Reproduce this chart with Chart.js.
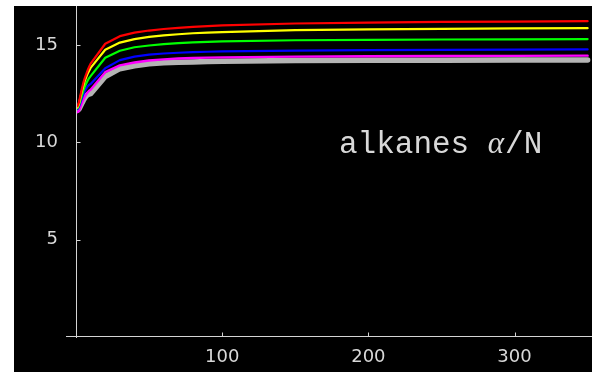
<!DOCTYPE html>
<html>
<head>
<meta charset="utf-8">
<script src="https://cdn.jsdelivr.net/npm/chart.js@4.4.1/dist/chart.umd.min.js"></script>
<style>
  html, body { margin: 0; padding: 0; background: #ffffff; }
  #wrap { width: 592px; height: 372px; position: relative; }
  canvas { display: block; }
</style>
</head>
<body>
<div id="wrap"><canvas id="c" width="592" height="372"></canvas></div>
<script>
// ---- data ----
const N = [1,2,3,4,5,6,7,8,9,10,20,30,40,50,60,70,80,90,100,150,200,250,300,350];
const red     = [11.85,12.05,12.4,12.75,13.05,13.3,13.5,13.7,13.88,14.04,15.06,15.45,15.63,15.74,15.82,15.88,15.93,15.97,16.0,16.1,16.15,16.18,16.2,16.22];
const yellow  = [11.8,11.98,12.3,12.62,12.9,13.15,13.35,13.53,13.68,13.82,14.75,15.12,15.3,15.41,15.49,15.55,15.6,15.63,15.66,15.76,15.8,15.83,15.85,15.86];
const green   = [11.75,11.9,12.15,12.42,12.65,12.85,13.02,13.17,13.3,13.4,14.34,14.7,14.88,14.97,15.04,15.09,15.13,15.16,15.18,15.24,15.26,15.28,15.29,15.3];
const blue    = [11.7,11.82,12.03,12.25,12.45,12.62,12.76,12.88,12.95,13.0,13.8,14.22,14.4,14.5,14.56,14.6,14.63,14.65,14.67,14.71,14.73,14.75,14.76,14.77];
const magenta = [11.55,11.6,11.8,12.0,12.18,12.33,12.46,12.57,12.65,12.7,13.6,13.95,14.1,14.2,14.26,14.3,14.33,14.35,14.36,14.4,14.42,14.43,14.44,14.45];
const gray    = [11.65,11.7,11.85,12.0,12.15,12.28,12.38,12.45,12.48,12.5,13.38,13.78,13.93,14.03,14.08,14.11,14.13,14.15,14.16,14.2,14.21,14.22,14.23,14.23];
const xTicks = [100, 200, 300];
const yTicks = [5, 10, 15];
const labelText = ["alkanes ", "\u03B1", "/N"];

const pts = arr => arr.map((v, i) => ({ x: N[i], y: v }));
const AXIS = '#d4d4d4';
const TXT = '#d8d8d8';

const framePlugin = {
  id: 'frame',
  beforeDraw(chart) {
    const ctx = chart.ctx;
    ctx.save();
    ctx.fillStyle = '#ffffff';
    ctx.fillRect(0, 0, chart.width, chart.height);
    ctx.fillStyle = '#000000';
    ctx.fillRect(14, 6, chart.width - 14, chart.height - 6);
    ctx.restore();
  },
  afterDraw(chart) {
    const ctx = chart.ctx;
    const xs = chart.scales.x, ys = chart.scales.y;
    const ca = chart.chartArea;
    const x0 = Math.round(ca.left) + 0.5;
    const y0 = Math.round(ca.bottom) - 0.5;
    ctx.save();
    ctx.strokeStyle = AXIS;
    ctx.lineWidth = 1;
    ctx.beginPath();
    ctx.moveTo(ca.left - 10, y0); ctx.lineTo(ca.right, y0);
    ctx.moveTo(x0, ca.top); ctx.lineTo(x0, ca.bottom + 1);
    xTicks.forEach(v => {
      const px = Math.round(xs.getPixelForValue(v)) + 0.5;
      ctx.moveTo(px, y0); ctx.lineTo(px, y0 - 4);
    });
    yTicks.forEach(v => {
      const py = Math.round(ys.getPixelForValue(v)) + 0.5;
      ctx.moveTo(x0, py); ctx.lineTo(x0 + 4, py);
    });
    ctx.stroke();

    const monoFont = '31px "Liberation Mono"';
    const mathFont = 'italic 31px "Liberation Serif"';
    let tx = ca.left + 263;
    const ty = 153;
    ctx.fillStyle = TXT;
    ctx.textBaseline = 'alphabetic';
    ctx.textAlign = 'left';
    ctx.font = monoFont;
    ctx.fillText(labelText[0], tx, ty);
    tx += ctx.measureText(labelText[0]).width;
    ctx.font = mathFont;
    ctx.fillText(labelText[1], tx, ty);
    tx += ctx.measureText(labelText[1]).width + 1;
    ctx.font = monoFont;
    ctx.fillText(labelText[2], tx, ty);
    ctx.restore();
  }
};

const mk = (data, color, w) => ({
  data: pts(data), borderColor: color, borderWidth: w, pointRadius: 0,
  fill: false, tension: 0, borderCapStyle: 'round', borderJoinStyle: 'round'
});

new Chart(document.getElementById('c'), {
  type: 'line',
  data: {
    datasets: [
      mk(red, '#ff0000', 2.2),
      mk(yellow, '#ffff00', 2.2),
      mk(green, '#00ff00', 2.2),
      mk(blue, '#0000ff', 2.2),
      mk(magenta, '#ff00ff', 2.4),
      mk(gray, '#b4b4b4', 5.5)
    ]
  },
  options: {
    responsive: false,
    animation: false,
    devicePixelRatio: 1,
    layout: { padding: { top: 6, right: 0, left: 0, bottom: 0 } },
    plugins: { legend: { display: false }, tooltip: { enabled: false } },
    scales: {
      x: {
        type: 'linear', min: 0, max: 353,
        afterBuildTicks: a => { a.ticks = xTicks.map(v => ({ value: v })); },
        afterFit: s => { s.height = 35; s.paddingLeft = 0; s.paddingRight = 0; },
        grid: { display: false, drawTicks: false, tickLength: 0 },
        border: { display: false },
        ticks: { color: TXT, font: { family: 'DejaVu Sans', size: 18 }, padding: 10, maxRotation: 0 }
      },
      y: {
        type: 'linear', min: 0, max: 17,
        afterBuildTicks: a => { a.ticks = yTicks.map(v => ({ value: v })); },
        afterFit: s => { s.width = 76; s.paddingTop = 0; s.paddingBottom = 0; },
        grid: { display: false, drawTicks: false, tickLength: 0 },
        border: { display: false },
        ticks: { color: TXT, font: { family: 'DejaVu Sans', size: 18 }, padding: 18 }
      }
    }
  },
  plugins: [framePlugin]
});
</script>
</body>
</html>
